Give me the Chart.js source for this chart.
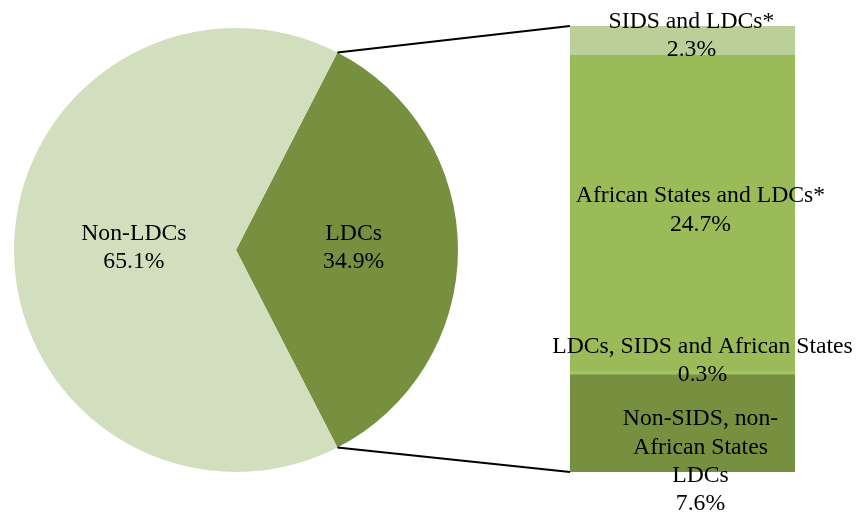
<!DOCTYPE html>
<html>
<head>
<meta charset="utf-8">
<script src="https://cdn.jsdelivr.net/npm/chart.js@4.4.0/dist/chart.umd.min.js"></script>
<style>
  body { margin: 0; background: #fff; }
  #wrap { position: relative; width: 857px; height: 513px; }
  #wrap canvas { position: absolute; left: 0; top: 0; }
</style>
</head>
<body>
<div id="wrap">
  <canvas id="pie" width="857" height="513"></canvas>
  <canvas id="bar" width="857" height="513"></canvas>
</div>
<script>
// pie: share of total
const pieLabels = ["LDCs", "Non-LDCs"];
const pieValues = [34.9, 65.1];
const pieColors = ["#77903F", "#D2DFBE"];

// bar: breakdown of the LDCs slice, bottom to top
const barLabels = [
  ["Non-SIDS, non-", "African States", "LDCs"],
  ["LDCs, SIDS and African States"],
  ["African States and LDCs*"],
  ["SIDS and LDCs*"]
];
const barValues = [7.6, 0.3, 24.7, 2.3];
const barColors = ["#77903F", "#A4C266", "#9BBB59", "#BBCF99"];

const FONT = "23.7px 'Liberation Serif', 'Times New Roman', serif";
const LINE_H = 28.3;

function drawBlock(ctx, lines, x, y) {
  ctx.save();
  ctx.font = FONT;
  ctx.fillStyle = "#000";
  ctx.textAlign = "center";
  ctx.textBaseline = "middle";
  const top = y - (lines.length - 1) * LINE_H / 2;
  lines.forEach((l, i) => ctx.fillText(l, x, top + i * LINE_H));
  ctx.restore();
}

// the LDCs slice is centred on the right-hand side
const ldcSweep = pieValues[0] / (pieValues[0] + pieValues[1]) * 360;

const pieChart = new Chart(document.getElementById("pie"), {
  type: "pie",
  data: {
    labels: pieLabels,
    datasets: [{ data: pieValues, backgroundColor: pieColors, borderWidth: 0 }]
  },
  options: {
    responsive: false,
    animation: false,
    rotation: 90 - ldcSweep / 2,
    layout: { padding: { left: 14, right: 399, top: 28, bottom: 41 } },
    plugins: { legend: { display: false }, tooltip: { enabled: false } }
  },
  plugins: [{
    id: "pieText",
    afterDraw(chart) {
      const ctx = chart.ctx;
      const arcs = chart.getDatasetMeta(0).data;
      const k = [0.53, 0.46];
      arcs.forEach((a, i) => {
        const mid = (a.startAngle + a.endAngle) / 2;
        const r = a.outerRadius * k[i];
        drawBlock(ctx, [pieLabels[i], pieValues[i].toFixed(1) + "%"],
          a.x + Math.cos(mid) * r, a.y + Math.sin(mid) * r - 2);
      });
    }
  }]
});

const total = barValues.reduce((s, v) => s + v, 0);
// label nudges (x, y) so the text sits where the original put it
const labelDx = [18, 20, 18, 9];
const labelDy = [38, -12, -3, -5];

new Chart(document.getElementById("bar"), {
  type: "bar",
  data: {
    labels: [""],
    datasets: barValues.map((v, i) => ({
      label: barLabels[i].join(" "),
      data: [v],
      backgroundColor: barColors[i],
      borderWidth: 0,
      barPercentage: 1,
      categoryPercentage: 1
    }))
  },
  options: {
    responsive: false,
    animation: false,
    layout: { padding: { left: 570, right: 62, top: 26, bottom: 41 } },
    scales: {
      x: { stacked: true, display: false },
      y: { stacked: true, display: false, min: 0, max: total }
    },
    plugins: { legend: { display: false }, tooltip: { enabled: false } }
  },
  plugins: [{
    id: "barText",
    afterDraw(chart) {
      const ctx = chart.ctx;
      const area = chart.chartArea;
      // connector lines from the LDCs slice to the bar
      const a = pieChart.getDatasetMeta(0).data[0];
      ctx.save();
      ctx.strokeStyle = "#000";
      ctx.lineWidth = 2;
      ctx.beginPath();
      ctx.moveTo(a.x + Math.cos(a.startAngle) * a.outerRadius, a.y + Math.sin(a.startAngle) * a.outerRadius);
      ctx.lineTo(area.left, area.top);
      ctx.moveTo(a.x + Math.cos(a.endAngle) * a.outerRadius, a.y + Math.sin(a.endAngle) * a.outerRadius);
      ctx.lineTo(area.left, area.bottom);
      ctx.stroke();
      ctx.restore();
      chart.data.datasets.forEach((ds, i) => {
        const el = chart.getDatasetMeta(i).data[0];
        const cy = (el.y + el.base) / 2 + labelDy[i];
        drawBlock(ctx, barLabels[i].concat([barValues[i].toFixed(1) + "%"]), el.x + labelDx[i], cy);
      });
    }
  }]
});
</script>
</body>
</html>
